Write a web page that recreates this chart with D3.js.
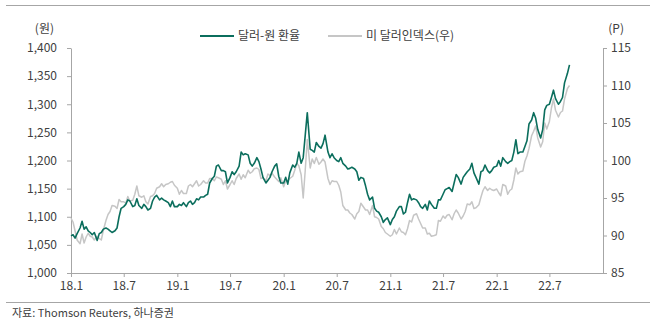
<!DOCTYPE html>
<html>
<head>
<meta charset="utf-8">
<script src="https://cdn.jsdelivr.net/npm/d3@7"></script>
<style>
  body { margin: 0; background: #fff; }
  #chart-area { width: 655px; height: 324px; }
  text { font-family: "Noto Sans CJK KR", "Liberation Sans", sans-serif; fill: #404040; }
  .axis path, .axis line { stroke: #a6a6a6; }
</style>
</head>
<body>
<div id="chart-area"></div>
<script>
/* * * * * * * * * * * * * *
 *   달러-원 vs 달러인덱스   *
 * * * * * * * * * * * * * */

// weekly samples: 1st, 8th, 15th, 22nd of each month, from 2018.1
const sampleDays = [1, 8, 15, 22];

// 달러-원 환율 (left axis, 원)
const krw2018 = [
  1066, 1068, 1062, 1070, 1080, 1092, 1078, 1082, 1075, 1072, 1068, 1072,
  1058, 1070, 1072, 1078, 1080, 1078, 1075, 1072, 1075, 1080, 1100, 1115,
  1118, 1122, 1130, 1128, 1118, 1120, 1132, 1120, 1115, 1122, 1118, 1112,
  1115, 1128, 1135, 1138, 1130, 1133, 1130, 1128, 1125, 1118, 1128, 1118
];
const krw2019 = [
  1118, 1122, 1120, 1125, 1118, 1125, 1128, 1122, 1125, 1132, 1130, 1135,
  1135, 1138, 1140, 1160, 1168, 1172, 1190, 1192, 1182, 1182, 1180, 1160,
  1170, 1180, 1175, 1180, 1190, 1215, 1210, 1212, 1210, 1195, 1190, 1195,
  1205, 1198, 1185, 1170, 1160, 1165, 1170, 1180, 1190, 1194, 1172, 1160
];
const krw2020 = [
  1160, 1170, 1158, 1178, 1192, 1188, 1195, 1215, 1195, 1205, 1245, 1285,
  1220, 1218, 1215, 1232, 1225, 1222, 1230, 1245, 1215, 1205, 1212, 1205,
  1200, 1198, 1205, 1195, 1190, 1185, 1186, 1188, 1185, 1180, 1165, 1170,
  1168, 1155, 1140, 1130, 1135, 1115, 1110, 1108, 1100, 1090, 1095, 1098
];
const krw2021 = [
  1086, 1095, 1100, 1110, 1118, 1118, 1105, 1108, 1125, 1140, 1130, 1132,
  1130, 1125, 1118, 1115, 1122, 1112, 1128, 1122, 1115, 1115, 1130, 1130,
  1140, 1148, 1150, 1152, 1145, 1160, 1175, 1170, 1158, 1170, 1175, 1180,
  1185, 1195, 1178, 1170, 1158, 1180, 1182, 1192, 1182, 1178, 1182, 1188
];
const krw2022 = [
  1190, 1200, 1190, 1205, 1198, 1195, 1198, 1200, 1215, 1237, 1212, 1215,
  1215, 1225, 1235, 1265, 1272, 1285, 1275, 1255, 1240, 1255, 1290, 1298,
  1300, 1312, 1325, 1310, 1300, 1305, 1312, 1338, 1355, 1370
];

// 미 달러인덱스 (right axis, P)
const dxy2018 = [
  92.3, 91.8, 90.6, 89.4, 88.9, 90.2, 89.0, 89.8, 90.3, 89.9, 89.8, 89.4,
  89.9, 89.6, 89.4, 90.7, 92.0, 92.8, 93.2, 94.0, 93.9, 93.6, 94.8, 94.5,
  94.5, 94.3, 95.2, 94.6, 94.7, 95.5, 96.6, 95.3, 95.1, 95.3, 94.5, 94.2,
  95.2, 95.3, 95.6, 96.3, 96.5, 96.9, 96.5, 96.8, 96.9, 97.1, 97.2, 96.7
];
const dxy2019 = [
  96.3, 95.5, 96.0, 95.6, 95.6, 96.6, 96.8, 96.5, 96.9, 97.3, 96.6, 96.8,
  97.3, 97.0, 97.0, 97.6, 97.6, 97.3, 97.8, 97.7, 97.5, 96.8, 97.3, 96.2,
  96.8, 97.3, 96.8, 97.6, 98.2, 97.5, 98.1, 97.7, 98.7, 98.3, 98.5, 98.9,
  99.0, 98.8, 97.6, 97.7, 97.3, 98.2, 98.0, 98.3, 97.8, 97.5, 97.2, 97.7
];
const dxy2020 = [
  96.5, 97.3, 97.3, 97.6, 97.9, 98.7, 99.6, 99.3, 98.1, 95.0, 98.7, 102.8,
  99.0, 100.2, 99.6, 100.4, 99.5, 99.8, 100.2, 99.8, 97.6, 96.8, 97.3, 97.2,
  97.2, 96.7, 95.8, 94.0, 93.4, 93.4, 93.0, 92.8, 92.2, 92.9, 93.2, 94.3,
  93.8, 93.4, 93.4, 92.8, 94.0, 92.5, 92.4, 92.2, 91.2, 90.9, 90.4, 90.2
];
const dxy2021 = [
  89.9, 90.1, 90.8, 90.2, 91.0, 90.5, 90.4, 90.1, 90.9, 92.0, 91.8, 92.7,
  92.9, 92.2, 91.6, 91.0, 91.0, 90.2, 90.3, 89.9, 90.0, 90.1, 92.0, 91.9,
  92.6, 92.3, 92.7, 92.8, 92.1, 92.9, 93.4, 93.0, 92.2, 92.6, 93.2, 94.2,
  94.1, 94.5, 93.6, 93.7, 94.1, 95.1, 96.0, 96.5, 96.0, 96.3, 96.1, 96.0
];
const dxy2022 = [
  96.2, 95.7, 95.3, 96.8, 96.6, 95.5, 96.0, 96.2, 97.4, 99.0, 98.2, 98.5,
  98.6, 99.9, 100.6, 101.6, 103.3, 103.9, 104.6, 103.0, 101.8, 102.5, 105.0, 104.2,
  105.2, 107.0, 108.2, 106.7, 105.8, 106.4, 106.6, 108.2, 109.6, 110.0
];

const krwTicks = [1000, 1050, 1100, 1150, 1200, 1250, 1300, 1350, 1400];
const dxyTicks = [85, 90, 95, 100, 105, 110, 115];
const xTickLabels = ["18.1", "18.7", "19.1", "19.7", "20.1", "20.7", "21.1", "21.7", "22.1", "22.7"];

const seriesNames = ["달러-원 환율", "미 달러인덱스(우)"];
const sourceText = "자료: Thomson Reuters, 하나증권";

class DualLineVis {
  constructor(parentElement, krwData, dxyData) {
    this.parentElement = parentElement;
    this.krwData = krwData;
    this.dxyData = dxyData;

    this.colors = ["#0b6e5d", "#c6c6c6"];

    this.initVis();
  }

  initVis() {
    let vis = this;

    vis.margin = { top: 48, right: 52, bottom: 51, left: 71 };
    vis.width = 655 - vis.margin.left - vis.margin.right;
    vis.height = 324 - vis.margin.top - vis.margin.bottom;

    vis.root = d3
      .select("#" + vis.parentElement)
      .append("svg")
      .attr("width", 655)
      .attr("height", 324);

    // top and bottom rules
    vis.root.append("line")
      .attr("x1", 6).attr("x2", 650)
      .attr("y1", 5.5).attr("y2", 5.5)
      .attr("stroke", "#a6a6a6");
    vis.root.append("line")
      .attr("x1", 6).attr("x2", 650)
      .attr("y1", 302.5).attr("y2", 302.5)
      .attr("stroke", "#a6a6a6");

    vis.root.append("text")
      .attr("x", 12)
      .attr("y", 317)
      .attr("font-size", "11px")
      .text(sourceText);

    vis.svg = vis.root
      .append("g")
      .attr("transform", `translate(${vis.margin.left},${vis.margin.top})`);

    // scales
    vis.x = d3.scaleTime()
      .domain([new Date(2018, 0, 1), new Date(2023, 0, 1)])
      .range([0, vis.width]);

    vis.yLeft = d3.scaleLinear().domain([1000, 1400]).range([vis.height, 0]);
    vis.yRight = d3.scaleLinear().domain([85, 115]).range([vis.height, 0]);

    // axes
    let tickDates = xTickLabels.map((d) => {
      let parts = d.split(".");
      return new Date(2000 + +parts[0], +parts[1] - 1, 1);
    });

    vis.xAxis = d3.axisBottom(vis.x)
      .tickValues(tickDates)
      .tickFormat((d, i) => xTickLabels[i])
      .tickSize(4)
      .tickSizeOuter(0)
      .tickPadding(4);

    vis.yAxisLeft = d3.axisLeft(vis.yLeft)
      .tickValues(krwTicks)
      .tickFormat(d3.format(","))
      .tickSize(4)
      .tickSizeOuter(0)
      .tickPadding(10);

    vis.yAxisRight = d3.axisRight(vis.yRight)
      .tickValues(dxyTicks)
      .tickSize(4)
      .tickSizeOuter(0)
      .tickPadding(4);

    vis.svg.append("g")
      .attr("class", "axis x-axis")
      .attr("transform", `translate(0,${vis.height})`)
      .call(vis.xAxis);

    vis.svg.append("g")
      .attr("class", "axis y-axis")
      .call(vis.yAxisLeft);

    vis.svg.append("g")
      .attr("class", "axis y-axis-right")
      .attr("transform", `translate(${vis.width},0)`)
      .call(vis.yAxisRight);

    vis.svg.selectAll(".axis text")
      .attr("font-size", "12px")
      .style("font-family", '"Noto Sans CJK KR", sans-serif')
      .attr("fill", "#404040");

    // unit labels
    vis.root.append("text")
      .attr("x", 54)
      .attr("y", 33)
      .attr("text-anchor", "end")
      .attr("font-size", "12px")
      .text("(원)");

    vis.root.append("text")
      .attr("x", 624)
      .attr("y", 33)
      .attr("text-anchor", "end")
      .attr("font-size", "12px")
      .text("(P)");

    vis.wrangleData();
  }

  wrangleData() {
    let vis = this;

    // attach a date to every weekly sample
    let toRows = (values) =>
      values.map((v, i) => ({
        date: new Date(2018, Math.floor(i / sampleDays.length), sampleDays[i % sampleDays.length]),
        value: v
      }));

    vis.krwRows = toRows(vis.krwData);
    vis.dxyRows = toRows(vis.dxyData);

    vis.updateVis();
  }

  updateVis() {
    let vis = this;

    let krwLine = d3.line()
      .x((d) => vis.x(d.date))
      .y((d) => vis.yLeft(d.value));

    let dxyLine = d3.line()
      .x((d) => vis.x(d.date))
      .y((d) => vis.yRight(d.value));

    // grey first so the won line sits on top
    vis.svg.append("path")
      .datum(vis.dxyRows)
      .attr("fill", "none")
      .attr("stroke", vis.colors[1])
      .attr("stroke-width", 1.5)
      .attr("stroke-linejoin", "round")
      .attr("d", dxyLine);

    vis.svg.append("path")
      .datum(vis.krwRows)
      .attr("fill", "none")
      .attr("stroke", vis.colors[0])
      .attr("stroke-width", 1.6)
      .attr("stroke-linejoin", "round")
      .attr("d", krwLine);

    //legend
    let legendX = [200, 328];
    let legend = vis.root.append("g").attr("class", "legend");

    seriesNames.forEach((name, i) => {
      legend.append("line")
        .attr("x1", legendX[i])
        .attr("x2", legendX[i] + 34)
        .attr("y1", 36)
        .attr("y2", 36)
        .attr("stroke", vis.colors[i])
        .attr("stroke-width", 2);

      legend.append("text")
        .attr("x", legendX[i] + 38)
        .attr("y", 40)
        .attr("font-size", "12px")
        .text(name);
    });
  }
}

let krwValues = [...krw2018, ...krw2019, ...krw2020, ...krw2021, ...krw2022];
let dxyValues = [...dxy2018, ...dxy2019, ...dxy2020, ...dxy2021, ...dxy2022];

new DualLineVis("chart-area", krwValues, dxyValues);
</script>
</body>
</html>
